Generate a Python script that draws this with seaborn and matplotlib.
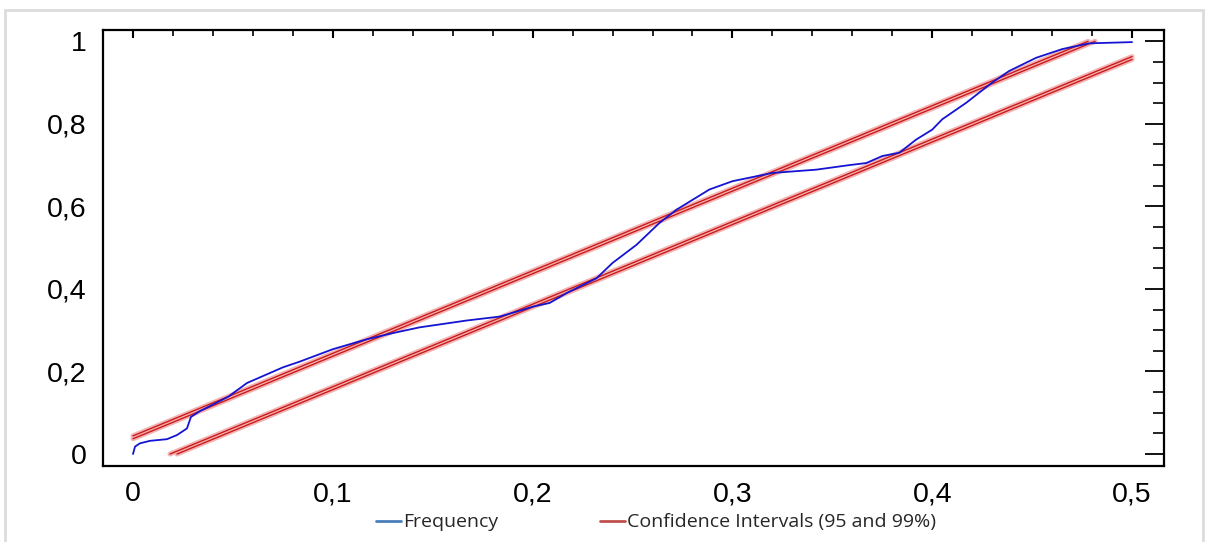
import matplotlib

matplotlib.use("Agg")
import matplotlib.pyplot as plt
import numpy as np
import pandas as pd
import seaborn as sns
from matplotlib.lines import Line2D
from matplotlib.patches import Rectangle
from matplotlib.ticker import FuncFormatter, MultipleLocator

freq_x = [0, 0.001, 0.0035, 0.0085, 0.017, 0.022, 0.027, 0.029, 0.0335, 0.040,
          0.0477, 0.057, 0.075, 0.0835, 0.1, 0.117, 0.130, 0.1435, 0.167, 0.1835,
          0.192, 0.200, 0.2085, 0.217, 0.232, 0.240, 0.252, 0.2635, 0.272, 0.2885,
          0.300, 0.320, 0.342, 0.3585, 0.367, 0.375, 0.3835, 0.392, 0.400, 0.405,
          0.417, 0.430, 0.4385, 0.452, 0.465, 0.4785, 0.500]
freq_y = [0, 0.018, 0.026, 0.032, 0.036, 0.046, 0.062, 0.09, 0.104, 0.12,
          0.139, 0.172, 0.21, 0.224, 0.254, 0.278, 0.293, 0.307, 0.3235, 0.333,
          0.345, 0.357, 0.366, 0.39, 0.426, 0.463, 0.507, 0.56, 0.592, 0.641,
          0.661, 0.681, 0.689, 0.700, 0.705, 0.722, 0.730, 0.762, 0.786, 0.811,
          0.851, 0.900, 0.928, 0.960, 0.981, 0.995, 0.998]

# confidence band lines (95 and 99%)
ci95_upper_x = [0, 0.4815]
ci95_upper_y = [0.037, 1.0]
ci99_upper_x = [0, 0.478]
ci99_upper_y = [0.044, 1.0]
ci95_lower_x = [0.0185, 0.5]
ci95_lower_y = [0, 0.963]
ci99_lower_x = [0.022, 0.5]
ci99_lower_y = [0, 0.956]

freq = pd.DataFrame({"x": freq_x, "y": freq_y})

sns.set_theme(style="white")
plt.rcParams["font.family"] = ["Liberation Sans", "DejaVu Sans"]

fig = plt.figure(figsize=(12.08, 5.42), dpi=100)
ax = fig.add_axes([0.0853, 0.1402, 0.8783, 0.8042])

bands = [(ci95_upper_x, ci95_upper_y), (ci99_upper_x, ci99_upper_y),
         (ci95_lower_x, ci95_lower_y), (ci99_lower_x, ci99_lower_y)]
for cx, cy in bands:
    sns.lineplot(x=cx, y=cy, ax=ax, color="#f2b4b4", lw=3.6, legend=False)
for cx, cy in bands:
    sns.lineplot(x=cx, y=cy, ax=ax, color="#cc1a1a", lw=1.0, legend=False)

sns.lineplot(data=freq, x="x", y="y", ax=ax, sort=False, color="#1414d2",
             lw=1.3, legend=False)

ax.set_xlim(-0.015, 0.516)
ax.set_ylim(-0.029, 1.027)
ax.set_xlabel("")
ax.set_ylabel("")

ax.xaxis.set_major_locator(MultipleLocator(0.1))
ax.xaxis.set_minor_locator(MultipleLocator(0.02))
ax.yaxis.set_major_locator(MultipleLocator(0.2))
ax.yaxis.set_minor_locator(MultipleLocator(0.05))


def comma_fmt(v, pos):
    s = f"{v:.1f}"
    if s in ("0.0", "-0.0"):
        return "0"
    if s == "1.0":
        return "1"
    return s.replace(".", ",")


ax.xaxis.set_major_formatter(FuncFormatter(comma_fmt))
ax.yaxis.set_major_formatter(FuncFormatter(comma_fmt))

for sp in ax.spines.values():
    sp.set_color("black")
    sp.set_linewidth(1.6)

ax.tick_params(axis="both", which="both", direction="in", colors="black",
               top=True, right=True, labelsize=20.5)
ax.tick_params(axis="x", which="major", length=6, width=1.5, pad=11)
ax.tick_params(axis="x", which="minor", length=4, width=1.2)
ax.tick_params(axis="y", which="major", length=14, width=1.3, pad=12)
ax.tick_params(axis="y", which="minor", length=8, width=1.2)

handles = [
    Line2D([], [], color="#4a7ebb", lw=2),
    Line2D([], [], color="#c0504d", lw=2),
]
fig.legend(handles, ["Frequency", "Confidence Intervals (95 and 99%)"],
           loc="center", bbox_to_anchor=(0.543, 0.036), ncol=2, frameon=False,
           handlelength=1.3, handletextpad=0.1, columnspacing=5.2,
           prop={"family": ["Open Sans", "DejaVu Sans"], "size": 14})

fig.patches.append(Rectangle((0.004, -0.02), 0.992, 1.0015,
                             transform=fig.transFigure, fill=False,
                             edgecolor="#dcdcdc", lw=2))

fig.savefig("out.png", dpi=100)
